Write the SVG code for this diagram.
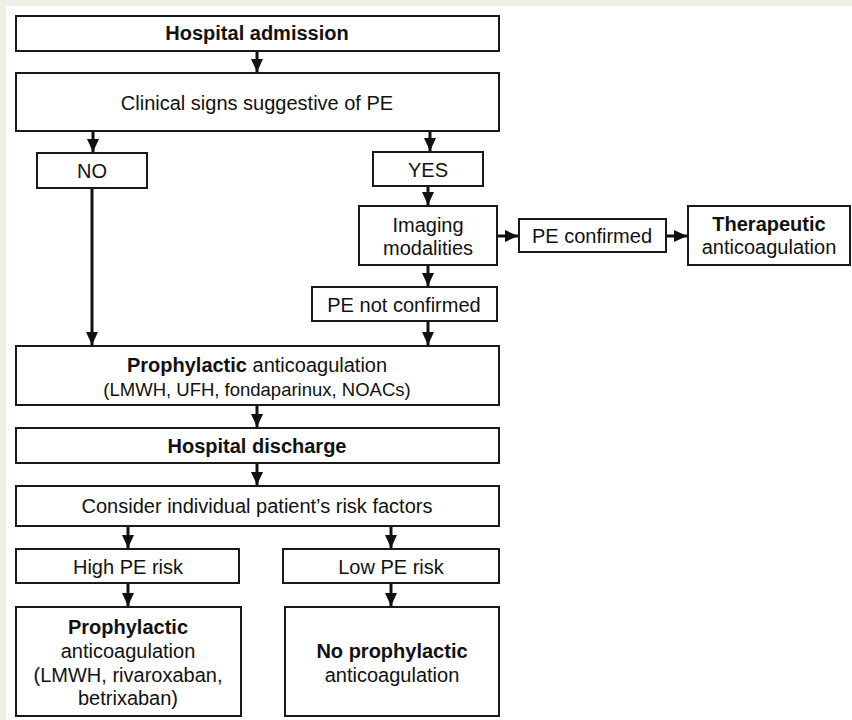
<svg xmlns="http://www.w3.org/2000/svg" width="852" height="720" viewBox="0 0 852 720">
<defs>
<style>
.box{fill:#ffffff;stroke:#1a1a1a;stroke-width:2}
.t{font-family:"Liberation Sans",Arial,sans-serif;font-size:20px;fill:#111;text-anchor:middle}
.b{font-weight:bold}
.s{font-size:18.5px}
.c{stroke:#111;stroke-width:3;fill:none}
</style>
<marker id="ah" markerUnits="userSpaceOnUse" markerWidth="14" markerHeight="14" viewBox="0 0 14 14" refX="13" refY="7" orient="auto">
<path d="M0,1 L13,7 L0,13 Z" fill="#111"/>
</marker>
</defs>
<rect x="0" y="0" width="852" height="720" fill="#f0efe5"/>
<rect x="6" y="6" width="846" height="714" fill="#ffffff"/>

<g id="connectors">
<line class="c" x1="257" y1="51" x2="257" y2="72" marker-end="url(#ah)"/>
<line class="c" x1="93" y1="131" x2="93" y2="152" marker-end="url(#ah)"/>
<line class="c" x1="430" y1="131" x2="430" y2="151" marker-end="url(#ah)"/>
<line class="c" x1="92" y1="188" x2="92" y2="345" marker-end="url(#ah)"/>
<line class="c" x1="428" y1="186" x2="428" y2="205" marker-end="url(#ah)"/>
<line class="c" x1="497" y1="236" x2="518" y2="236" marker-end="url(#ah)"/>
<line class="c" x1="666" y1="236" x2="687" y2="236" marker-end="url(#ah)"/>
<line class="c" x1="428" y1="265" x2="428" y2="286" marker-end="url(#ah)"/>
<line class="c" x1="428" y1="321" x2="428" y2="345" marker-end="url(#ah)"/>
<line class="c" x1="257" y1="405" x2="257" y2="427" marker-end="url(#ah)"/>
<line class="c" x1="257" y1="463" x2="257" y2="485" marker-end="url(#ah)"/>
<line class="c" x1="128" y1="526" x2="128" y2="548" marker-end="url(#ah)"/>
<line class="c" x1="391" y1="526" x2="391" y2="548" marker-end="url(#ah)"/>
<line class="c" x1="128" y1="583" x2="128" y2="606" marker-end="url(#ah)"/>
<line class="c" x1="391" y1="583" x2="391" y2="606" marker-end="url(#ah)"/>
</g>

<g id="admission">
<rect class="box" x="16" y="16" width="483" height="35"/>
<text class="t b" x="257" y="40">Hospital admission</text>
</g>
<g id="clinical">
<rect class="box" x="16" y="73" width="483" height="58"/>
<text class="t" x="257" y="110">Clinical signs suggestive of PE</text>
</g>
<g id="no">
<rect class="box" x="37" y="153" width="110" height="35"/>
<text class="t" x="92" y="178">NO</text>
</g>
<g id="yes">
<rect class="box" x="373" y="152" width="110" height="34"/>
<text class="t" x="428" y="177">YES</text>
</g>
<g id="imaging">
<rect class="box" x="359" y="206" width="138" height="59"/>
<text class="t" x="428" y="232">Imaging</text>
<text class="t" x="428" y="255">modalities</text>
</g>
<g id="pe-confirmed">
<rect class="box" x="519" y="219" width="147" height="33"/>
<text class="t" x="592" y="243">PE confirmed</text>
</g>
<g id="therapeutic">
<rect class="box" x="688" y="206" width="162" height="59"/>
<text class="t b" x="769" y="231">Therapeutic</text>
<text class="t" x="769" y="254">anticoagulation</text>
</g>
<g id="pe-not-confirmed">
<rect class="box" x="312" y="287" width="185" height="34"/>
<text class="t" x="404" y="312">PE not confirmed</text>
</g>
<g id="prophylactic">
<rect class="box" x="16" y="346" width="483" height="59"/>
<text class="t" x="257" y="372"><tspan class="b">Prophylactic</tspan> anticoagulation</text>
<text class="t s" x="257" y="396">(LMWH, UFH, fondaparinux, NOACs)</text>
</g>
<g id="discharge">
<rect class="box" x="16" y="428" width="483" height="35"/>
<text class="t b" x="257" y="453">Hospital discharge</text>
</g>
<g id="consider">
<rect class="box" x="16" y="486" width="483" height="40"/>
<text class="t" x="257" y="513">Consider individual patient’s risk factors</text>
</g>
<g id="high-risk">
<rect class="box" x="16" y="549" width="223" height="34"/>
<text class="t" x="128" y="574">High PE risk</text>
</g>
<g id="low-risk">
<rect class="box" x="283" y="549" width="216" height="34"/>
<text class="t" x="391" y="574">Low PE risk</text>
</g>
<g id="prophylactic-after">
<rect class="box" x="16" y="607" width="225" height="109"/>
<text class="t b" x="128" y="634">Prophylactic</text>
<text class="t" x="128" y="658">anticoagulation</text>
<text class="t" x="128" y="682">(LMWH, rivaroxaban,</text>
<text class="t" x="128" y="705">betrixaban)</text>
</g>
<g id="no-prophylactic">
<rect class="box" x="285" y="607" width="214" height="109"/>
<text class="t b" x="392" y="658">No prophylactic</text>
<text class="t" x="392" y="682">anticoagulation</text>
</g>
</svg>
